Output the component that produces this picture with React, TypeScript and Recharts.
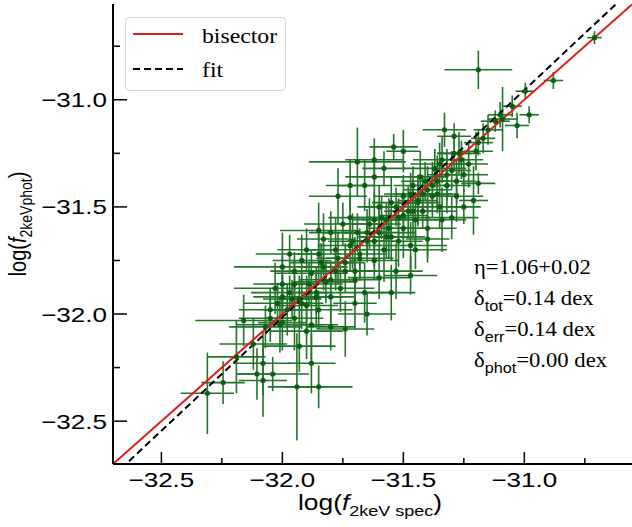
import { ScatterChart, Scatter, XAxis, YAxis, ErrorBar, ReferenceLine, Customized } from 'recharts';

// log f_2keV from spectra (x) and photometry (y), with 1-sigma errors
const specX = [
  -32.31, -32.245, -32.19, -32.16, -32.105, -32.08, -32.04, -32.08, -31.94, -31.88,
  -31.93, -32.07, -32.01, -32.02, -31.98, -31.95, -31.97, -31.93, -31.9, -31.88,
  -31.86, -31.85, -32.0, -31.88, -31.95, -32.0, -31.92, -31.85, -31.82, -31.8,
  -31.78, -31.83, -31.8, -31.78, -31.76, -31.74, -31.72, -31.7, -31.75, -31.77,
  -31.72, -31.69, -31.68, -31.66, -31.65, -31.64, -31.62, -31.6, -31.6, -31.58,
  -31.57, -31.55, -31.55, -31.53, -31.52, -31.5, -31.5, -31.48, -31.47, -31.46,
  -31.45, -31.44, -31.43, -31.42, -31.4, -31.4, -31.38, -31.37, -31.36, -31.35,
  -31.33, -31.34, -31.32, -31.3, -31.29, -31.28, -31.27, -31.25, -31.23, -31.21,
  -31.2, -31.19, -31.19, -31.17, -31.12, -31.1, -31.09, -31.05, -31.03, -30.996,
  -30.98, -30.88, -30.71, -31.19, -31.69, -31.54, -31.5, -31.62, -31.58, -31.66,
  -31.85, -31.9, -31.97, -32.03, -32.05, -31.74, -31.8, -31.85, -31.6, -31.47,
  -31.34, -31.7, -31.65, -31.55, -31.45, -31.4, -31.3, -31.25, -31.72, -31.62,
  -32.05, -32.0, -31.96, -31.92, -31.89, -31.86, -31.83, -31.8, -31.77, -31.74,
  -31.71, -31.68, -31.65, -31.62, -31.59, -31.56, -31.53, -31.5, -31.47, -31.44,
  -31.41, -31.38, -31.35, -31.32, -31.29, -31.26, -31.9, -31.7, -31.52, -31.36,
  -32.12, -32.0, -31.95, -31.84, -31.62, -31.57, -31.46, -31.42, -31.28, -31.15,
];
const photY = [
  -32.37, -32.32, -32.2, -32.03, -32.28, -32.23, -32.28, -32.31, -32.34, -32.23,
  -32.15, -32.06, -32.05, -31.95, -31.98, -32.02, -31.9, -31.93, -31.96, -32.05,
  -31.9, -31.98, -31.86, -31.81, -31.8, -31.78, -31.75, -31.72, -31.85, -31.92,
  -31.8, -31.65, -31.62, -31.7, -31.88, -31.76, -31.68, -31.8, -31.58, -31.45,
  -31.55, -31.62, -31.72, -31.9, -31.66, -31.58, -31.75, -31.62, -31.5, -31.7,
  -31.56, -31.64, -31.48, -31.8, -31.55, -31.6, -31.45, -31.52, -31.68, -31.4,
  -31.56, -31.48, -31.36, -31.52, -31.42, -31.6, -31.45, -31.32, -31.38, -31.5,
  -31.14, -31.28, -31.4, -31.33, -31.17, -31.45, -31.25, -31.35, -31.3, -31.47,
  -31.24, -31.2, -31.39, -31.18, -31.1, -31.07, -31.09, -31.03, -31.12, -30.96,
  -31.07, -30.91, -30.71, -30.86, -31.29, -31.22, -31.24, -31.36, -31.32, -31.4,
  -31.61, -31.7, -31.72, -31.88, -31.98, -32.07, -32.06, -32.34, -31.83, -31.82,
  -31.56, -31.95, -32.0, -31.9, -31.7, -31.65, -31.55, -31.5, -31.4, -31.28,
  -32.02, -32.04, -31.93, -31.95, -31.86, -31.92, -31.78, -31.84, -31.74, -31.8,
  -31.66, -31.74, -31.62, -31.66, -31.55, -31.6, -31.5, -31.54, -31.44, -31.47,
  -31.38, -31.4, -31.3, -31.35, -31.25, -31.28, -32.08, -31.84, -31.66, -31.44,
  -32.14, -31.92, -31.86, -31.76, -31.56, -31.64, -31.52, -31.44, -31.38, -31.14,
];
const specErr = [
  0.11, 0.09, 0.12, 0.2, 0.08, 0.12, 0.15, 0.1, 0.12, 0.1,
  0.15, 0.15, 0.18, 0.14, 0.1, 0.12, 0.16, 0.09, 0.13, 0.11,
  0.08, 0.14, 0.12, 0.15, 0.1, 0.2, 0.12, 0.09, 0.13, 0.1,
  0.15, 0.11, 0.09, 0.12, 0.14, 0.08, 0.13, 0.1, 0.16, 0.12,
  0.09, 0.14, 0.11, 0.12, 0.08, 0.13, 0.1, 0.15, 0.09, 0.12,
  0.1, 0.14, 0.08, 0.11, 0.13, 0.09, 0.12, 0.1, 0.15, 0.08,
  0.12, 0.09, 0.11, 0.14, 0.1, 0.12, 0.09, 0.13, 0.08, 0.11,
  0.09, 0.12, 0.1, 0.08, 0.07, 0.11, 0.09, 0.1, 0.08, 0.06,
  0.07, 0.06, 0.07, 0.05, 0.06, 0.05, 0.06, 0.04, 0.05, 0.04,
  0.04, 0.04, 0.03, 0.14, 0.2, 0.1, 0.07, 0.12, 0.09, 0.11,
  0.16, 0.12, 0.14, 0.17, 0.13, 0.12, 0.1, 0.14, 0.13, 0.11,
  0.1, 0.09, 0.12, 0.1, 0.13, 0.09, 0.11, 0.07, 0.1, 0.12,
  0.13, 0.1, 0.12, 0.09, 0.14, 0.11, 0.1, 0.13, 0.09, 0.12,
  0.1, 0.14, 0.08, 0.11, 0.12, 0.09, 0.13, 0.1, 0.11, 0.08,
  0.1, 0.09, 0.12, 0.08, 0.07, 0.09, 0.15, 0.11, 0.1, 0.09,
  0.14, 0.12, 0.1, 0.13, 0.09, 0.11, 0.1, 0.12, 0.08, 0.06,
];
const photErr = [
  0.19, 0.1, 0.17, 0.12, 0.12, 0.15, 0.08, 0.17, 0.25, 0.14,
  0.12, 0.1, 0.13, 0.09, 0.12, 0.15, 0.08, 0.11, 0.14, 0.18,
  0.1, 0.09, 0.13, 0.11, 0.09, 0.16, 0.12, 0.14, 0.1, 0.13,
  0.09, 0.12, 0.1, 0.15, 0.11, 0.09, 0.12, 0.16, 0.1, 0.13,
  0.11, 0.09, 0.12, 0.14, 0.1, 0.12, 0.09, 0.13, 0.1, 0.15,
  0.08, 0.11, 0.12, 0.13, 0.09, 0.14, 0.1, 0.12, 0.11, 0.09,
  0.13, 0.1, 0.12, 0.08, 0.11, 0.14, 0.1, 0.09, 0.12, 0.1,
  0.08, 0.11, 0.13, 0.09, 0.06, 0.12, 0.1, 0.08, 0.11, 0.16,
  0.09, 0.06, 0.05, 0.07, 0.05, 0.06, 0.15, 0.05, 0.06, 0.04,
  0.04, 0.04, 0.03, 0.09, 0.16, 0.06, 0.1, 0.14, 0.08, 0.12,
  0.13, 0.1, 0.09, 0.12, 0.1, 0.13, 0.11, 0.1, 0.1, 0.09,
  0.15, 0.12, 0.1, 0.13, 0.09, 0.11, 0.1, 0.08, 0.12, 0.1,
  0.11, 0.13, 0.09, 0.12, 0.1, 0.14, 0.11, 0.09, 0.12, 0.1,
  0.13, 0.09, 0.11, 0.12, 0.1, 0.14, 0.09, 0.11, 0.1, 0.12,
  0.09, 0.11, 0.1, 0.12, 0.08, 0.09, 0.13, 0.1, 0.12, 0.09,
  0.12, 0.1, 0.11, 0.09, 0.13, 0.1, 0.12, 0.09, 0.1, 0.07,
];

const axisTicks = [-32.5, -32.25, -32, -31.75, -31.5, -31.25, -31, -30.75];
const xDomain = [-32.7, -30.555];
const yDomain = [-32.7, -30.553];

// fit: slope 1.06 around pivot
const fitSlope = 1.06;
const fitPivot = -31.75;
const fitY = (x: number) => fitPivot + fitSlope * (x - fitPivot);

const GREEN_BAR = '#22742a';
const GREEN_PT = '#0c5f10';
const RED = '#e31a1c';
const SANS = '"Liberation Sans", Arial, sans-serif';
const SERIF = '"Liberation Serif", "Times New Roman", serif';

const points = specX.map((x, i) => ({ x, y: photY[i], ex: specErr[i], ey: photErr[i] }));

const isMajor = (v: number) => Math.abs(v * 2 - Math.round(v * 2)) < 1e-6;
const fmt = (v: number) => '\u2212' + Math.abs(v).toFixed(1);

function BottomTick({ x, y, payload }: any) {
  const major = isMajor(payload.value);
  return (
    <g>
      <line x1={x} x2={x} y1={y} y2={y - (major ? 12 : 6)} stroke="#000" strokeWidth={1.5} />
      {major && (
        <text transform={`translate(${x},${y + 23}) scale(1.24,1)`} textAnchor="middle" fontFamily={SANS} fontSize={21} fill="#000">
          {fmt(payload.value)}
        </text>
      )}
    </g>
  );
}

function LeftTick({ x, y, payload }: any) {
  const major = isMajor(payload.value);
  return (
    <g>
      <line x1={x} x2={x + (major ? 14 : 7)} y1={y} y2={y} stroke="#000" strokeWidth={1.5} />
      {major && (
        <text transform={`translate(${x - 6},${y + 7.5}) scale(1.24,1)`} textAnchor="end" fontFamily={SANS} fontSize={21} fill="#000">
          {fmt(payload.value)}
        </text>
      )}
    </g>
  );
}

function TopTick({ x, y }: any) {
  return <line x1={x} x2={x} y1={y} y2={y + 11} stroke="#000" strokeWidth={1.5} />;
}

function RightTick({ x, y, payload }: any) {
  const major = isMajor(payload.value);
  return <line x1={x} x2={x - (major ? 13 : 9)} y1={y} y2={y} stroke="#000" strokeWidth={1.5} />;
}

function XTitle() {
  return (
    <text transform="translate(370,510) scale(1.2,1)" textAnchor="middle" fontFamily={SANS} fontSize={22} fill="#000">
      log(<tspan fontStyle="italic">f</tspan>
      <tspan fontSize={15} dy={6}>2keV spec</tspan>
      <tspan dy={-6}>)</tspan>
    </text>
  );
}

function YTitle() {
  return (
    <text transform="translate(26,224) scale(1.24,1) rotate(-90)" textAnchor="middle" fontFamily={SANS} fontSize={20} fill="#000">
      log(<tspan fontStyle="italic">f</tspan>
      <tspan fontSize={14} dy={5}>2keVphot</tspan>
      <tspan dy={-5}>)</tspan>
    </text>
  );
}

function Decorations() {
  const stats = [
    { sym: '\u03b4', sub: 'tot', val: '=0.14 dex' },
    { sym: '\u03b4', sub: 'err', val: '=0.14 dex' },
    { sym: '\u03b4', sub: 'phot', val: '=0.00 dex' },
  ];
  return (
    <g>
      <rect x={125.5} y={17.5} width={160} height={73} rx={4} fill="#fff" stroke="#d4d4d4" strokeWidth={1} />
      <line x1={133} x2={183} y1={34} y2={34} stroke={RED} strokeWidth={2} />
      <text transform="translate(202,43) scale(1.08,1)" fontFamily={SERIF} fontSize={22} fill="#000">bisector</text>
      <line x1={133} x2={183} y1={69} y2={69} stroke="#000" strokeWidth={2} strokeDasharray="7 4" />
      <text transform="translate(202,77) scale(1.08,1)" fontFamily={SERIF} fontSize={22} fill="#000">fit</text>

      <text transform="translate(474,274) scale(1.08,1)" fontFamily={SERIF} fontSize={21} fill="#000">
        {'\u03b7=1.06+0.02'}
      </text>
      {stats.map((s, i) => (
        <text key={s.sub} transform={`translate(474,${305 + i * 31}) scale(1.08,1)`} fontFamily={SERIF} fontSize={21} fill="#000">
          {s.sym}
          <tspan fontFamily={SANS} fontSize={15} dy={6}>{s.sub}</tspan>
          <tspan dy={-6}>{s.val}</tspan>
        </text>
      ))}
    </g>
  );
}

export default function App() {
  return (
    <div style={{ position: 'absolute', left: 0, top: 0, width: 632, height: 527, background: '#fff', overflow: 'hidden' }}>
      <ScatterChart width={632} height={527} margin={{ top: 4, right: 0, bottom: 0, left: 0 }}>
        <XAxis
          xAxisId="x"
          type="number"
          dataKey="x"
          domain={xDomain}
          allowDataOverflow
          ticks={axisTicks}
          interval={0}
          height={63}
          tickSize={0}
          tickMargin={0}
          tickLine={false}
          tick={<BottomTick />}
          axisLine={{ stroke: '#000', strokeWidth: 2 }}
          label={<XTitle />}
        />
        <XAxis
          xAxisId="xt"
          orientation="top"
          type="number"
          domain={xDomain}
          allowDataOverflow
          ticks={axisTicks}
          interval={0}
          height={0}
          tickSize={0}
          tickMargin={0}
          tickLine={false}
          tick={<TopTick />}
          axisLine={{ stroke: '#000', strokeWidth: 2 }}
        />
        <YAxis
          yAxisId="y"
          type="number"
          dataKey="y"
          domain={yDomain}
          allowDataOverflow
          ticks={axisTicks}
          interval={0}
          width={113}
          tickSize={0}
          tickMargin={0}
          tickLine={false}
          tick={<LeftTick />}
          axisLine={{ stroke: '#000', strokeWidth: 2 }}
          label={<YTitle />}
        />
        <YAxis
          yAxisId="yr"
          orientation="right"
          type="number"
          domain={yDomain}
          allowDataOverflow
          ticks={axisTicks}
          interval={0}
          width={0}
          tickSize={0}
          tickMargin={0}
          tickLine={false}
          tick={<RightTick />}
          axisLine={false}
        />
        <Scatter
          xAxisId="x"
          yAxisId="y"
          data={points}
          isAnimationActive={false}
          shape={(p: any) => <circle cx={p.cx} cy={p.cy} r={2.6} fill={GREEN_PT} />}
        >
          <ErrorBar dataKey="ex" direction="x" width={0} stroke={GREEN_BAR} strokeWidth={1.6} />
          <ErrorBar dataKey="ey" direction="y" width={0} stroke={GREEN_BAR} strokeWidth={1.6} />
        </Scatter>
        <ReferenceLine
          xAxisId="x"
          yAxisId="y"
          segment={[{ x: xDomain[0], y: fitY(xDomain[0]) }, { x: xDomain[1], y: fitY(xDomain[1]) }]}
          stroke="#000"
          strokeWidth={2}
          strokeDasharray="7 4"
          ifOverflow="hidden"
        />
        <ReferenceLine
          xAxisId="x"
          yAxisId="y"
          segment={[{ x: xDomain[0], y: xDomain[0] }, { x: xDomain[1], y: xDomain[1] }]}
          stroke={RED}
          strokeWidth={2}
          ifOverflow="hidden"
        />
        <Customized component={Decorations} />
      </ScatterChart>
    </div>
  );
}
